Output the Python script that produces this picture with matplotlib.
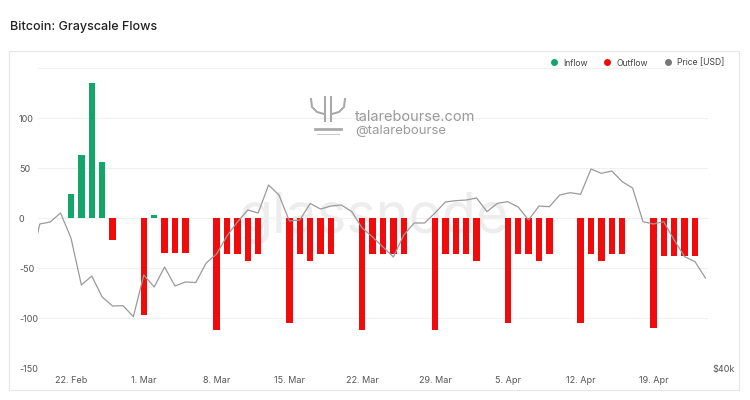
import matplotlib
matplotlib.use("Agg")
import matplotlib.pyplot as plt
import matplotlib.dates as mdates
from matplotlib.patches import Rectangle
from matplotlib.lines import Line2D
import numpy as np
import pandas as pd

plt.rcParams["font.family"] = ["Inter", "DejaVu Sans"]

# flows (BTC), one value per trading day
flow_dates = pd.to_datetime([
    "2021-02-22", "2021-02-23", "2021-02-24", "2021-02-25", "2021-02-26",
    "2021-03-01", "2021-03-02", "2021-03-03", "2021-03-04", "2021-03-05",
    "2021-03-08", "2021-03-09", "2021-03-10", "2021-03-11", "2021-03-12",
    "2021-03-15", "2021-03-16", "2021-03-17", "2021-03-18", "2021-03-19",
    "2021-03-22", "2021-03-23", "2021-03-24", "2021-03-25", "2021-03-26",
    "2021-03-29", "2021-03-30", "2021-03-31", "2021-04-01", "2021-04-02",
    "2021-04-05", "2021-04-06", "2021-04-07", "2021-04-08", "2021-04-09",
    "2021-04-12", "2021-04-13", "2021-04-14", "2021-04-15", "2021-04-16",
    "2021-04-19", "2021-04-20", "2021-04-21", "2021-04-22", "2021-04-23",
])
flows = [
    24, 63, 135, 56, -22,
    -97, 3, -35, -35, -35,
    -112, -36, -36, -43, -36,
    -105, -36, -43, -36, -36,
    -112, -36, -36, -36, -36,
    -112, -36, -36, -36, -43,
    -105, -36, -36, -43, -36,
    -105, -36, -43, -36, -36,
    -110, -38, -38, -38, -38,
]

# BTC price (USD), daily
price_dates = pd.date_range("2021-02-18", "2021-04-24", freq="D")
price = [
    51760, 57280, 57520, 58600, 55600, 49960, 51040, 48520, 47440, 47480,
    46160, 51160, 49720, 52120, 49840, 50320, 50260, 52600, 53680, 55840,
    57520, 58960, 58600, 61960, 60760, 57640, 57760, 59740, 59080, 59440,
    59560, 58760, 56800, 55720, 54520, 53320, 55960, 57400, 57400, 58600,
    59920, 60080, 60160, 60400, 58760, 59760, 59960, 59320, 57760, 59440,
    59360, 60760, 61040, 60840, 63880, 63360, 63640, 62360, 61600, 57560,
    57280, 57560, 55360, 53360, 52760, 50800,
]

week_ticks = pd.date_range("2021-02-22", "2021-04-19", freq="7D")
week_labels = ["22. Feb", "1. Mar", "8. Mar", "15. Mar", "22. Mar",
               "29. Mar", "5. Apr", "12. Apr", "19. Apr"]
y_ticks = [-150, -100, -50, 0, 50, 100, 150]
y_labels = ["-150", "-100", "-50", "0", "50", "100", ""]

GREEN = "#12a66a"
RED = "#f00c0c"
GRAY = "#9a9a9a"

fig = plt.figure(figsize=(7.5, 4), dpi=100)
W, H = 750, 400

# outer chart box
fig.patches.append(Rectangle((9 / W, 10 / H), 730 / W, 339 / H, transform=fig.transFigure,
                             fill=False, edgecolor="#e6e6e6", linewidth=0.8))
fig.text(10 / W, 1 - 27 / H, "Bitcoin: Grayscale Flows", fontsize=9, fontweight="medium",
         color="#222222", va="center")

ax = fig.add_axes([38 / W, 32 / H, 670 / W, 300 / H])
fx = mdates.date2num(flow_dates)
colors = [GREEN if v > 0 else RED for v in flows]
ax.bar(fx, flows, width=0.62, color=colors, zorder=3)
ax.set_ylim(-150, 150)
x0 = mdates.date2num(pd.Timestamp("2021-02-22"))
ax.set_xlim(x0 - 3.17, x0 + 61.25)
ax.set_yticks(y_ticks)
ax.set_yticklabels(y_labels, ha="left", fontsize=6.5, color="#555555")
ax.tick_params(axis="y", length=0, pad=13.7)
ax.set_xticks(mdates.date2num(week_ticks))
ax.set_xticklabels(week_labels, fontsize=6.5, color="#555555")
ax.tick_params(axis="x", length=0, pad=6)
ax.grid(axis="y", color="#f0f0f0", linewidth=0.8, zorder=0)
for s in ax.spines.values():
    s.set_visible(False)

# watermarks
ax.text(0.5, 0.5, "glassnode", transform=ax.transAxes, ha="center", va="center",
        fontsize=40, color="#ededed", zorder=1)
fig.text(355 / W, 1 - 117 / H, "talarebourse.com", fontsize=10.5, color="#9a9a9a",
         va="center")
fig.text(355 / W, 1 - 131 / H, "@talarebourse", fontsize=9.5, color="#9a9a9a", va="center")
# rough logo mark
LOGO = "#aaaaaa"
logo = fig.add_axes([308 / W, 1 - 137 / H, 40 / W, 42 / H])
logo.set_xlim(0, 40)
logo.set_ylim(0, 42)
logo.axis("off")
logo.plot([17, 17], [16, 40], color=LOGO, lw=1.5)
logo.plot([23, 23], [16, 40], color=LOGO, lw=1.5)
logo.plot([3, 4, 9, 16], [38, 30, 25, 23], color=LOGO, lw=1.5)
logo.plot([37, 36, 31, 24], [38, 30, 25, 23], color=LOGO, lw=1.5)
logo.plot([7, 33], [8, 8], color=LOGO, lw=2)
logo.plot([9, 31], [3, 3], color="#cccccc", lw=0.8)

ax2 = ax.twinx()
ax2.plot(mdates.date2num(price_dates), price, color=GRAY, linewidth=0.9, zorder=4)
ax2.set_ylim(40000, 76000)
ax2.set_yticks([40000])
ax2.set_yticklabels(["$40k"], fontsize=6.5, color="#555555")
ax2.tick_params(axis="y", length=0, pad=3)
for s in ax2.spines.values():
    s.set_visible(False)
ax2.set_xlim(ax.get_xlim())

handles = [
    Line2D([], [], marker="o", linestyle="", color=GREEN, markersize=4),
    Line2D([], [], marker="o", linestyle="", color=RED, markersize=4),
    Line2D([], [], marker="o", linestyle="", color="#777777", markersize=4),
]
fig.legend(handles, ["Inflow", "Outflow", "Price [USD]"], loc="center right",
           bbox_to_anchor=(732 / W, 1 - 63 / H), ncol=3, frameon=False, fontsize=6.2,
           handletextpad=0.05, columnspacing=1.3, labelcolor="#444444")

fig.savefig("out.png", dpi=100)
